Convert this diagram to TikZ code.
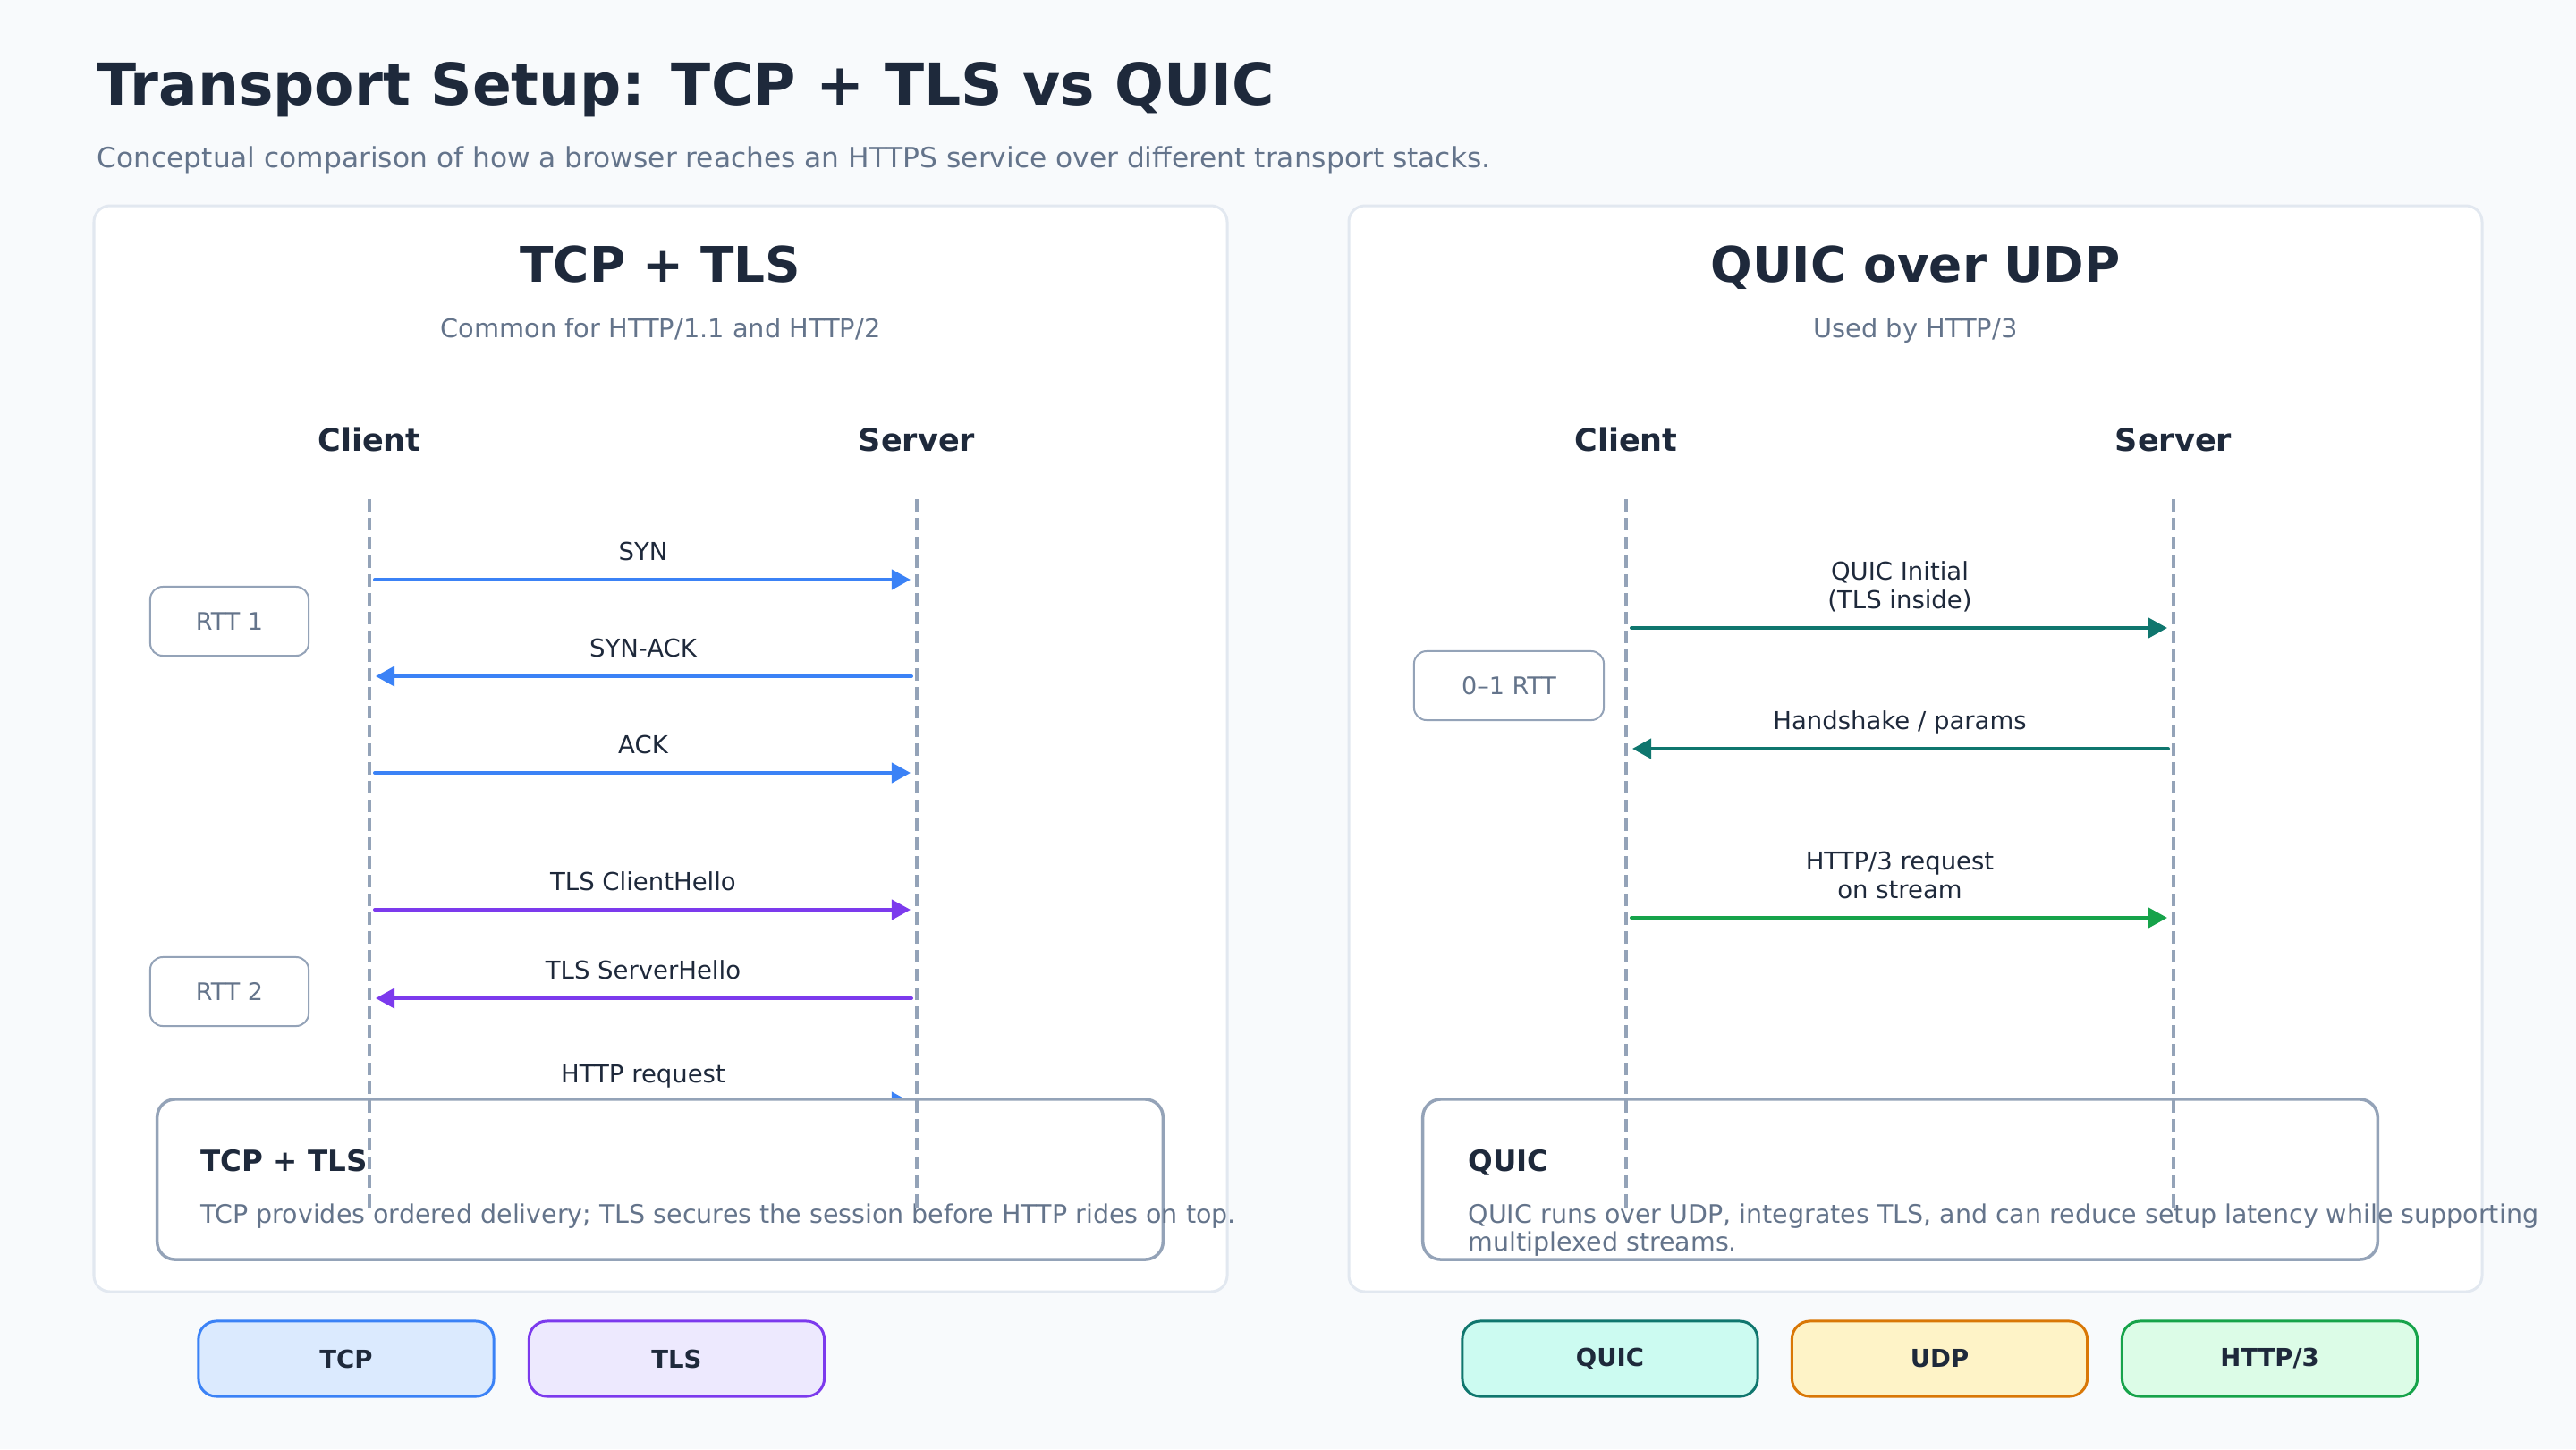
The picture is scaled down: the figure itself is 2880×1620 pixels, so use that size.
\documentclass[tikz,border=0pt]{standalone}
\usepackage{fontspec}
\setmainfont{DejaVu Sans}
\usetikzlibrary{arrows.meta}
\definecolor{paper}{HTML}{F8FAFC}
\definecolor{ink}{HTML}{1E293B}
\definecolor{muted}{HTML}{64748B}
\definecolor{rule}{HTML}{94A3B8}
\definecolor{edge}{HTML}{E2E8F0}
\definecolor{tcpblue}{HTML}{3B82F6}
\definecolor{tcpfill}{HTML}{DBEAFE}
\definecolor{tlspurple}{HTML}{7C3AED}
\definecolor{tlsfill}{HTML}{EDE9FE}
\definecolor{quicteal}{HTML}{0F766E}
\definecolor{quicfill}{HTML}{CCFBF1}
\definecolor{udporange}{HTML}{D97706}
\definecolor{udpfill}{HTML}{FEF3C7}
\definecolor{httpgreen}{HTML}{16A34A}
\definecolor{httpfill}{HTML}{DCFCE7}
\begin{document}
\begin{tikzpicture}[x=0.01cm, y=-0.01cm, line join=round, line cap=round, >={Triangle[length=0.21cm,width=0.22cm]},
  txt/.style={inner sep=0pt, anchor=base, text=ink},
  maintitle/.style={txt, anchor=base west, font=\fontsize{18.38}{22}\selectfont\bfseries},
  lead/.style={txt, anchor=base west, text=muted, font=\fontsize{8.89}{10.7}\selectfont},
  head/.style={txt, font=\fontsize{15.6}{18.7}\selectfont\bfseries},
  subhead/.style={txt, text=muted, font=\fontsize{8.2}{9.8}\selectfont},
  actor/.style={txt, font=\fontsize{9.96}{12}\selectfont\bfseries},
  panel/.style={fill=white, draw=edge, line width=0.03cm, rounded corners=0.18cm},
  life/.style={draw=rule, line width=0.032cm, line cap=butt, dash pattern=on 0.14cm off 0.07cm},
  msg/.style={->, line width=0.04cm, shorten <=0.06cm, shorten >=0.07cm},
  msglabel/.style={txt, align=center, font=\fontsize{7.82}{8.82}\selectfont},
  rttbox/.style={draw=rule, fill=white, line width=0.02cm, rounded corners=0.14cm, text=muted, font=\fontsize{7.68}{9.2}\selectfont, minimum height=0.77cm, inner sep=0pt},
  notebox/.style={draw=rule, fill=white, line width=0.035cm, rounded corners=0.2cm, minimum height=1.79cm, inner sep=0pt},
  notehead/.style={txt, anchor=base west, font=\fontsize{9.25}{11.1}\selectfont\bfseries},
  notetext/.style={txt, anchor=base west, align=left, text=muted, font=\fontsize{8.1}{8.82}\selectfont},
  chip/.style={draw=#1, line width=0.03cm, rounded corners=0.2cm, minimum width=3.3cm, minimum height=0.84cm, inner sep=0pt, text=ink, font=\fontsize{7.82}{9.4}\selectfont\bfseries}]
\useasboundingbox (0,0) rectangle (2880,1620);
\fill[paper] (0,0) rectangle (2880,1620);
\path
(413,558) coordinate (tcC) (413,1350) coordinate (tcCe)
(1025,558) coordinate (tcS) (1025,1350) coordinate (tcSe)
(1818,558) coordinate (quC) (1818,1350) coordinate (quCe)
(2430,558) coordinate (quS) (2430,1350) coordinate (quSe)
;
\draw[panel] (105,230) rectangle (1372,1444);
\draw[panel] (1508,230) rectangle (2775,1444);
\node[maintitle] (title) at (108,117) {Transport Setup: TCP + TLS vs QUIC};
\node[lead] (lead) at (108,187) {Conceptual comparison of how a browser reaches an HTTPS service over different transport stacks.};
\node[head] (tcpHead) at (738.5,315) {TCP + TLS};
\node[subhead] (tcpSub) at (738.5,377) {Common for HTTP/1.1 and HTTP/2};
\node[head] (quicHead) at (2141.5,315) {QUIC over UDP};
\node[subhead] (quicSub) at (2141.5,377) {Used by HTTP/3};
\foreach \p/\n/\t in {413/tcClient/Client, 1025/tcServer/Server, 1818/quClient/Client, 2430/quServer/Server}
\node[actor] (\n) at (\p,504) {\t};
\node[rttbox, minimum width=1.77cm] (rtt1) at (256.5,694.5) {RTT 1};
\node[rttbox, minimum width=1.77cm] (rtt2) at (256.5,1108.5) {RTT 2};
\node[rttbox, minimum width=2.12cm] (rtt0) at (1687,766.5) {0--1 RTT};
\foreach \y/\a/\b/\c/\t in {648/tcC/tcS/tcpblue/SYN, 756/tcS/tcC/tcpblue/SYN-ACK, 864/tcC/tcS/tcpblue/ACK,
  1017/tcC/tcS/tlspurple/TLS ClientHello, 1116/tcS/tcC/tlspurple/TLS ServerHello, 1232/tcC/tcS/tcpblue/HTTP request,
  702/quC/quS/quicteal/{QUIC Initial\\(TLS inside)}, 837/quS/quC/quicteal/{Handshake / params},
  1026/quC/quS/httpgreen/{HTTP/3 request\\on stream}}
\draw[msg, \c] (\a |- 0,\y) -- (\b |- 0,\y) node[msglabel, midway, yshift=0.22cm] {\t};
\node[notebox, minimum width=11.24cm] (tcpNote) at (738,1318.5) {};
\node[notebox, minimum width=10.67cm] (quicNote) at (2124.5,1318.5) {};
\node[notehead] (tcpNoteHead) at (224,1309) {TCP + TLS};
\node[notetext] (tcpNoteText) at (224,1367) {TCP provides ordered delivery; TLS secures the session before HTTP rides on top.};
\node[notehead] (quicNoteHead) at (1641,1309) {QUIC};
\node[notetext] (quicNoteText) at (1641,1398) {QUIC runs over UDP, integrates TLS, and can reduce setup latency while supporting\\multiplexed streams.};
\foreach \p/\q in {tcC/tcCe, tcS/tcSe, quC/quCe, quS/quSe}
\draw[life] (\p) -- (\q);
\node[chip=tcpblue, fill=tcpfill] (tcpChip) at (387,1519) {TCP};
\node[chip=tlspurple, fill=tlsfill] (tlsChip) at (756.5,1519) {TLS};
\node[chip=quicteal, fill=quicfill] (quicChip) at (1800,1519) {QUIC};
\node[chip=udporange, fill=udpfill] (udpChip) at (2168.5,1519) {UDP};
\node[chip=httpgreen, fill=httpfill] (httpChip) at (2537.5,1519) {HTTP/3};
\end{tikzpicture}
\end{document}
